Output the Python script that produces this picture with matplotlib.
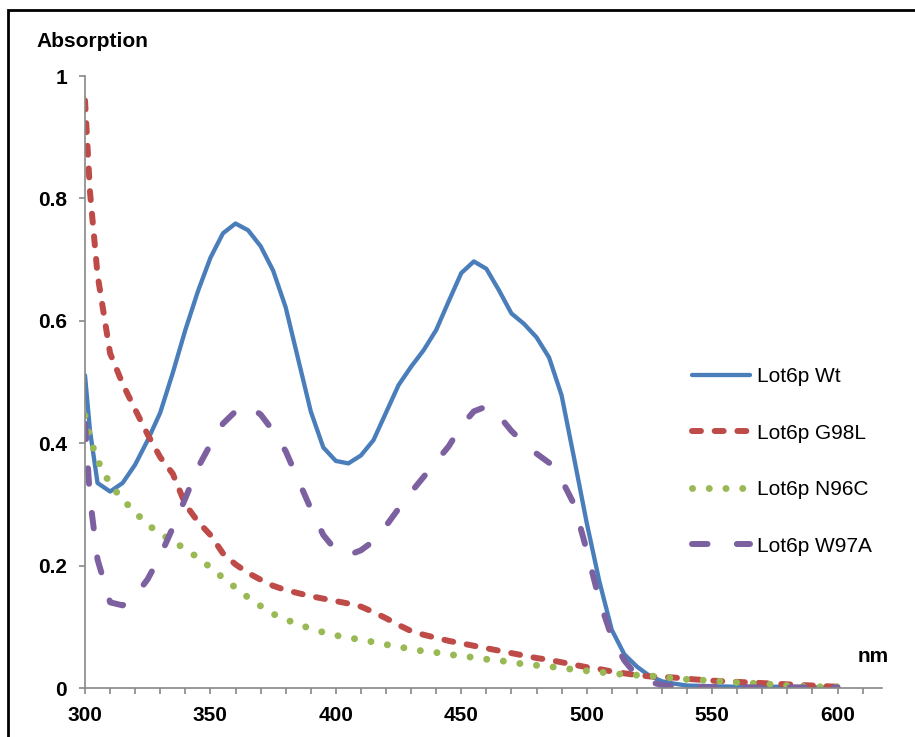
import matplotlib
matplotlib.use("Agg")
import matplotlib.pyplot as plt
from matplotlib.patches import Rectangle

plt.rcParams["font.family"] = ["Liberation Sans", "DejaVu Sans"]

# longueurs d'onde (nm) communes aux quatre spectres
wl = [300, 302] + list(range(305, 545, 5)) + [550, 560, 570, 580, 590, 600]

wt = [0.511, 0.42, 0.335, 0.321, 0.335, 0.365, 0.405, 0.45, 0.515, 0.585,
      0.648, 0.703, 0.743, 0.759, 0.748, 0.722, 0.682, 0.622, 0.537, 0.452,
      0.393, 0.371, 0.367, 0.38, 0.405, 0.45, 0.495, 0.525, 0.552, 0.585,
      0.632, 0.678, 0.697, 0.685, 0.65, 0.612, 0.595, 0.573, 0.54, 0.478,
      0.375, 0.27, 0.175, 0.095, 0.055, 0.035, 0.02, 0.011, 0.007, 0.004,
      0.003, 0.002, 0.002, 0.002, 0.001, 0.001]

g98l = [0.96, 0.81, 0.675, 0.547, 0.497, 0.455, 0.414, 0.377, 0.35, 0.30,
        0.272, 0.25, 0.22, 0.202, 0.188, 0.177, 0.167, 0.16, 0.155, 0.15,
        0.146, 0.142, 0.138, 0.133, 0.124, 0.114, 0.103, 0.093, 0.087, 0.082,
        0.077, 0.073, 0.069, 0.065, 0.061, 0.057, 0.053, 0.049, 0.046, 0.042,
        0.038, 0.034, 0.031, 0.027, 0.024, 0.021, 0.019, 0.018, 0.017, 0.015,
        0.012, 0.010, 0.008, 0.006, 0.004, 0.002]

n96c = [0.445, 0.408, 0.372, 0.333, 0.308, 0.287, 0.267, 0.252, 0.24, 0.227,
        0.213, 0.197, 0.18, 0.164, 0.148, 0.134, 0.121, 0.112, 0.104, 0.097,
        0.091, 0.086, 0.082, 0.079, 0.075, 0.071, 0.067, 0.064, 0.060, 0.058,
        0.055, 0.052, 0.050, 0.047, 0.045, 0.042, 0.039, 0.037, 0.035, 0.033,
        0.030, 0.028, 0.026, 0.024, 0.022, 0.021, 0.020, 0.018, 0.016, 0.014,
        0.012, 0.009, 0.007, 0.004, 0.002, 0.002]

w97a = [0.432, 0.31, 0.21, 0.14, 0.135, 0.15, 0.178, 0.216, 0.262, 0.31,
        0.36, 0.398, 0.432, 0.452, 0.461, 0.447, 0.42, 0.387, 0.34, 0.293,
        0.25, 0.225, 0.217, 0.225, 0.24, 0.265, 0.293, 0.32, 0.345, 0.37,
        0.395, 0.428, 0.452, 0.46, 0.445, 0.42, 0.40, 0.383, 0.368, 0.34,
        0.30, 0.225, 0.144, 0.083, 0.045, 0.02, 0.01, 0.005, 0.003, 0.002,
        0.001, 0.001, 0.001, 0.001, 0.001, 0.001]

labels = ["Lot6p Wt", "Lot6p G98L", "Lot6p N96C", "Lot6p W97A"]
yticks = [0, 0.2, 0.4, 0.6, 0.8, 1]
ytick_labels = ["0", "0.2", "0.4", "0.6", "0.8", "1"]
xticks = [300, 350, 400, 450, 500, 550, 600]

fig = plt.figure(figsize=(9.15, 7.37), dpi=100)
ax = fig.add_axes([85 / 915, 1 - 688 / 737, 796.7 / 915, 612 / 737])

ax.plot(wl, wt, color="#4A7EBB", lw=3.1, solid_capstyle="round",
        solid_joinstyle="round", label=labels[0])
ax.plot(wl, g98l, color="#BE4B48", lw=4.3, ls=(0, (1.5, 2.3)),
        dash_capstyle="round", dash_joinstyle="round", label=labels[1])
ax.plot(wl, n96c, color="#98B954", lw=5.0, ls=(0, (0.01, 2.4)),
        dash_capstyle="round", label=labels[2])
ax.plot(wl, w97a, color="#7D60A0", lw=4.3, ls=(0, (2.6, 4.9)),
        dash_capstyle="round", dash_joinstyle="round", label=labels[3])

ax.set_xlim(300, 617.6)
ax.set_ylim(0, 1)
ax.set_xticks(xticks)
ax.set_xticks(range(300, 620, 10), minor=True)
ax.set_yticks(yticks)
ax.set_yticklabels(ytick_labels)
for s in ["top", "right"]:
    ax.spines[s].set_visible(False)
for s in ["left", "bottom"]:
    ax.spines[s].set_color("#888888")
    ax.spines[s].set_linewidth(1.2)
ax.tick_params(axis="both", which="both", color="#888888", width=1.2,
               length=4, direction="out")
ax.tick_params(axis="x", which="major", pad=9, labelsize=15)
ax.tick_params(axis="y", pad=9, labelsize=15)
for t in ax.get_xticklabels() + ax.get_yticklabels():
    t.set_fontweight("bold")

fig.text(36 / 915, 1 - 47 / 737, "Absorption", fontsize=15, fontweight="bold",
         ha="left", va="baseline")
fig.text(873 / 915, 1 - 656 / 737, "nm", fontsize=15, fontweight="bold",
         ha="center", va="center")

ax.legend(loc="upper left", bbox_to_anchor=(692 / 915, 1 - 367 / 737),
          bbox_transform=fig.transFigure, frameon=False, fontsize=15,
          handlelength=2.8, handletextpad=0.3, labelspacing=1.8,
          borderpad=0, borderaxespad=0)

# cadre noir autour du graphique (coupé à droite et en bas)
fig.add_artist(Rectangle((8 / 915, -0.1), 1.2, 0.1 + 1 - 10 / 737,
                         transform=fig.transFigure, fill=False,
                         edgecolor="black", lw=2, clip_on=False))

fig.savefig("out.png", dpi=100)
